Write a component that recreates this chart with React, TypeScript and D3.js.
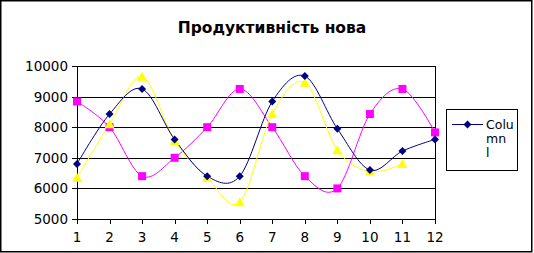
import React from "react";
import * as d3 from "d3";

const categories = [1, 2, 3, 4, 5, 6, 7, 8, 9, 10, 11, 12];
const navySeries = [6800, 8430, 9250, 7600, 6400, 6400, 8840, 9670, 7950, 6600, 7220, 7600];
const yellowSeries = [6350, 8100, 9650, 7550, 6350, 5550, 8430, 9450, 7250, 6550, 6800];
const magentaSeries = [8840, 8000, 6400, 7000, 8000, 9250, 8000, 6400, 6000, 8430, 9250, 7830];
const yTicks = [5000, 6000, 7000, 8000, 9000, 10000];
const title = "Продуктивність нова";
const legendLines = ["Colu", "mn", "l"];

const W = 534;
const H = 253;
const left = 77;
const right = 435;
const top = 66;
const bottom = 219;
const font = "'DejaVu Sans', sans-serif";

export default function App() {
  const x = d3.scaleLinear().domain([1, 12]).range([left, right]);
  const y = d3.scaleLinear().domain([5000, 10000]).range([bottom, top]);
  const line = d3
    .line<number>()
    .x((_, i) => x(categories[i]))
    .y((d) => y(d))
    .curve(d3.curveCatmullRom.alpha(0));

  const diamond = (cx: number, cy: number, r = 4) =>
    `M${cx},${cy - r}L${cx + r},${cy}L${cx},${cy + r}L${cx - r},${cy}Z`;
  const tri = (cx: number, cy: number) =>
    `M${cx},${cy - 5}L${cx + 5},${cy + 4}L${cx - 5},${cy + 4}Z`;

  return (
    <svg
      width={W}
      height={H}
      style={{ position: "absolute", left: 0, top: 0, background: "#fff" }}
    >
      <rect x={0.75} y={0.75} width={531} height={251} fill="#fff" stroke="#000" strokeWidth={1.5} />
      <text x={272} y={33} textAnchor="middle" fontFamily={font} fontSize={15.5} fontWeight="bold">
        {title}
      </text>
      {yTicks.map((t) => (
        <g key={t}>
          {t > 5000 && (
            <line x1={left} x2={right} y1={Math.round(y(t)) + 0.5} y2={Math.round(y(t)) + 0.5} stroke="#000" />
          )}
          <line x1={left - 5} x2={left} y1={Math.round(y(t)) + 0.5} y2={Math.round(y(t)) + 0.5} stroke="#000" />
          <text x={68} y={y(t) + 5} textAnchor="end" fontFamily={font} fontSize={13.5}>
            {t}
          </text>
        </g>
      ))}
      <line x1={right + 0.5} x2={right + 0.5} y1={top} y2={bottom} stroke="#000" />
      <line x1={left + 0.5} x2={left + 0.5} y1={top} y2={bottom + 0.5} stroke="#000" />
      <line x1={left} x2={right + 1} y1={bottom + 0.5} y2={bottom + 0.5} stroke="#000" />
      {categories.map((c) => (
        <g key={c}>
          <line x1={Math.round(x(c)) + 0.5} x2={Math.round(x(c)) + 0.5} y1={bottom} y2={bottom + 5} stroke="#000" />
          <text x={x(c)} y={242} textAnchor="middle" fontFamily={font} fontSize={13.5}>
            {c}
          </text>
        </g>
      ))}
      <path d={line(magentaSeries) || ""} fill="none" stroke="#ff00ff" strokeWidth={1} />
      <path d={line(yellowSeries) || ""} fill="none" stroke="#ffff00" strokeWidth={1} />
      <path d={line(navySeries) || ""} fill="none" stroke="#000080" strokeWidth={1} />
      {magentaSeries.map((v, i) => (
        <rect key={"m" + i} x={x(categories[i]) - 4} y={y(v) - 4} width={8} height={8} fill="#ff00ff" />
      ))}
      {yellowSeries.map((v, i) => (
        <path key={"y" + i} d={tri(x(categories[i]), y(v))} fill="#ffff00" />
      ))}
      {navySeries.map((v, i) => (
        <path key={"n" + i} d={diamond(x(categories[i]), y(v))} fill="#000080" />
      ))}
      <rect x={446.5} y={109.5} width={71} height={61} fill="#fff" stroke="#000" />
      <line x1={452} x2={483} y1={124.5} y2={124.5} stroke="#000080" />
      <path d={diamond(467.5, 124.5)} fill="#000080" />
      {legendLines.map((s, i) => (
        <text key={i} x={486} y={129 + i * 14} fontFamily={font} fontSize={12.5}>
          {s}
        </text>
      ))}
    </svg>
  );
}
